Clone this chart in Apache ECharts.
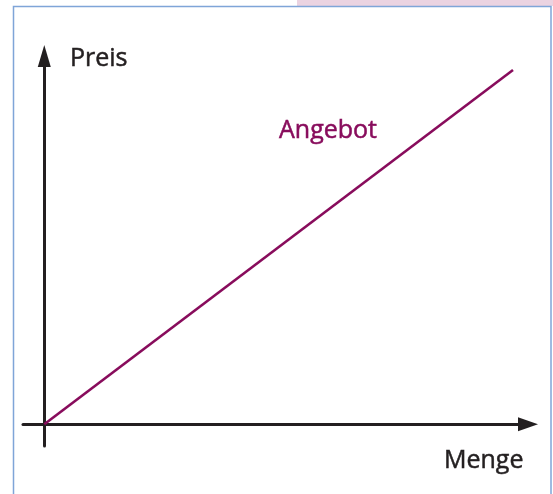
<!DOCTYPE html>
<html>
<head>
<meta charset="utf-8">
<script src="https://cdn.jsdelivr.net/npm/echarts@6/dist/echarts.min.js"></script>
<style>
  html, body { margin: 0; padding: 0; background: #fff; }
  #chart { width: 553px; height: 494px; }
</style>
</head>
<body>
<div id="chart"></div>
<script>
// supply line: quantity -> price (abstract units)
const menge = [0, 100];
const preis = [0, 100];
const axisLabels = { x: "Menge", y: "Preis" };
const seriesName = "Angebot";

const chart = echarts.init(document.getElementById("chart"));

const axisColor = "#231f20";
const lineColor = "#880c5c";
const font = "25px \"Open Sans\", sans-serif";

function label(text, x, y, color) {
  return {
    type: "text",
    x: x,
    y: y,
    style: {
      text: text,
      font: font,
      fill: color,
      stroke: color,
      lineWidth: 0.5,
      verticalAlign: "middle",
    },
  };
}

const option = {
  animation: false,
  grid: {
    left: 23,
    right: 25,
    top: 56,
    bottom: 48,
  },
  xAxis: {
    type: "value",
    min: -4.54,
    max: 103.2,
    splitLine: { show: false },
    axisTick: { show: false },
    axisLabel: { show: false },
    axisLine: {
      onZero: true,
      symbol: ["none", "triangle"],
      symbolSize: [14, 20],
      lineStyle: { color: axisColor, width: 3 },
    },
  },
  yAxis: {
    type: "value",
    min: -6.12,
    max: 103.95,
    splitLine: { show: false },
    axisTick: { show: false },
    axisLabel: { show: false },
    axisLine: {
      show: true,
      onZero: true,
      symbol: ["none", "triangle"],
      symbolSize: [13, 22],
      lineStyle: { color: axisColor, width: 3 },
    },
  },
  graphic: [
    {
      type: "rect",
      shape: { x: 297, y: 0, width: 256, height: 6 },
      style: { fill: "#ebd3e1" },
      z: -10,
    },
    {
      type: "rect",
      shape: { x: 13.5, y: 6.5, width: 537.5, height: 500 },
      style: { fill: "none", stroke: "#7fa5d8", lineWidth: 1.5 },
      z: -5,
    },
    label(axisLabels.y, 70, 59, axisColor),
    label(seriesName, 279, 131, lineColor),
    label(axisLabels.x, 444, 461, axisColor),
  ],
  series: [
    {
      name: seriesName,
      type: "line",
      data: menge.map((m, i) => [m, preis[i]]),
      symbol: "none",
      silent: true,
      lineStyle: { color: lineColor, width: 2.6 },
    },
  ],
};

chart.setOption(option);
</script>
</body>
</html>
